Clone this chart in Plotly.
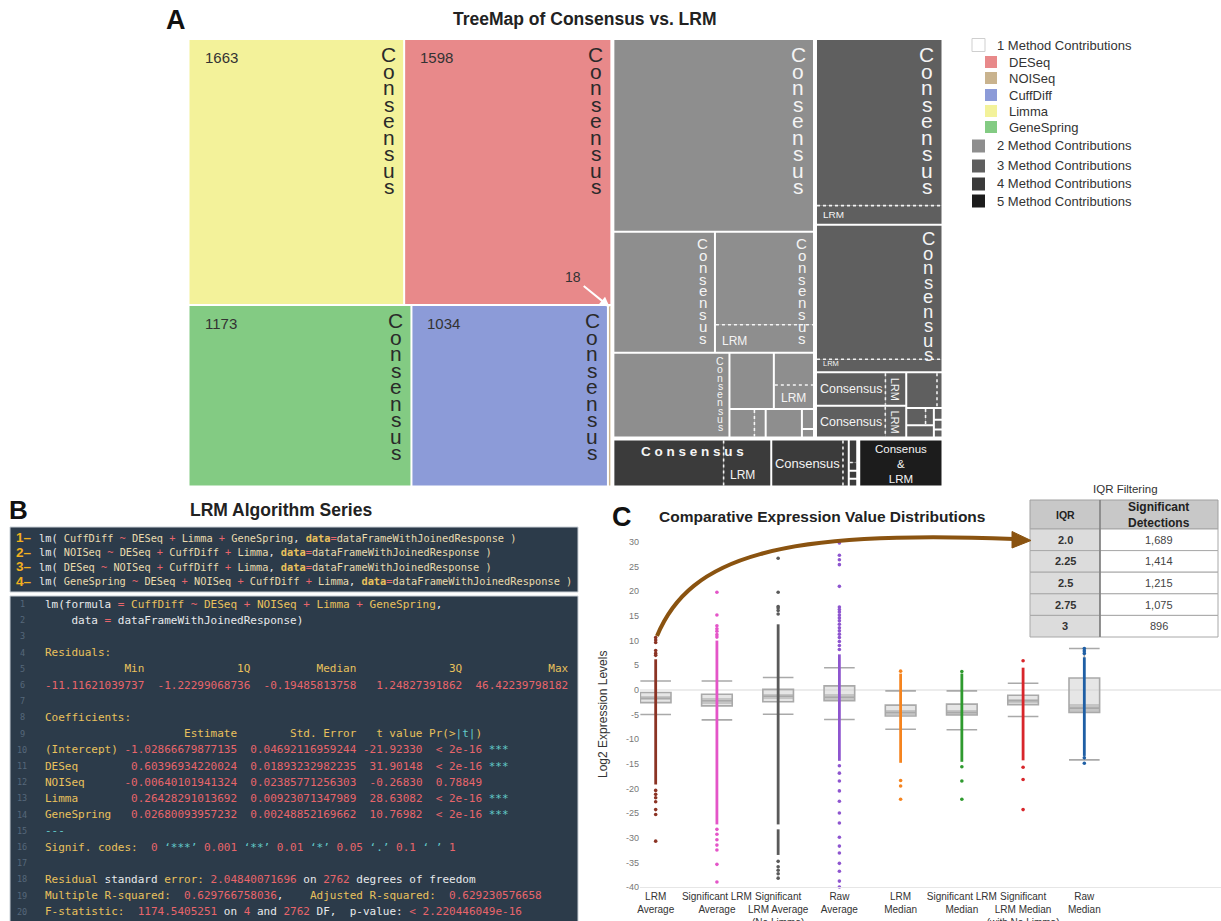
import plotly.graph_objects as go

FW, FH = 1221, 921
SANS = "Liberation Sans, Arial, Helvetica, sans-serif"
MONO = "DejaVu Sans Mono, Liberation Mono, monospace"


def PX(x):
    return x / FW


def PY(y):
    return 1 - y / FH


# ====================== Panel A data (treemap) ======================
one_method_names = ["DESeq", "NOISeq", "CuffDiff", "Limma", "GeneSpring"]
one_method_counts = [1598, 18, 1034, 1663, 1173]
one_method_colors = ["#E8898A", "#C9B38E", "#8C9BD8", "#F3F29A", "#83CB83"]

two_method_consensus = [1128, 358, 270, 287, 73, 38, 21, 30, 7, 3]
two_method_lrm = [0, 0, 79, 0, 0, 28, 9, 0, 0, 0]
three_method_consensus = [621, 502, 69, 65, 33, 10, 10, 3, 2.5, 2]
three_method_lrm = [68, 45, 20, 19, 5, 4, 0, 0, 0, 0]
four_method_consensus = [157, 103, 6, 2, 2]
four_method_lrm = [67, 7, 2, 0, 0]
five_method_combined = [120]

group_labels = ["1 Method Contributions", "2 Method Contributions", "3 Method Contributions",
                "4 Method Contributions", "5 Method Contributions"]
group_colors = ["#FFFFFF", "#8E8E8E", "#5F5F5F", "#3B3B3B", "#1C1C1C"]

# ====================== Panel C data ======================
cat_labels = ["LRM<br>Average", "Significant LRM<br>Average", "Significant<br>LRM Average<br>(No Limma)",
              "Raw<br>Average", "LRM<br>Median", "Significant LRM<br>Median",
              "Significant<br>LRM Median<br>(with No Limma)", "Raw<br>Median"]
box_q3 = [-0.55, -0.9, 0.1, 0.8, -3.1, -2.9, -1.1, 2.4]
box_q1 = [-2.6, -3.25, -2.4, -2.2, -5.3, -5.1, -3.0, -4.6]
box_median = [-1.7, -2.2, -1.3, -1.5, -4.6, -4.6, -2.2, -3.7]
band_hi = [-1.25, -1.55, -0.8, -0.9, -4.1, -4.1, -1.8, -2.9]
band_lo = [-2.15, -2.9, -1.9, -2.1, -5.1, -5.1, -2.7, -4.4]
whisker_hi = [1.8, 1.8, 2.5, 4.5, -0.2, -0.2, 1.35, 8.4]
whisker_lo = [-5.0, -6.1, -4.95, -6.0, -8.0, -8.1, -5.4, -14.2]

lrm_avg_dense = [[-19.2, 6.2]]
lrm_avg_points = [10.6, 10.1, 9.6, 8.0, 7.4, 7.0, -20.4, -21.2, -21.9, -22.7, -24.3, -25.3, -30.7]
sig_lrm_avg_dense = [[-27.3, 10.0]]
sig_lrm_avg_points = [19.8, 15.2, 13.0, 12.4, 11.9, 11.2, 10.7, -28.3, -29.3, -30.4, -31.5, -32.5, -35.4, -39.0]
sig_lrm_avg_nolimma_dense = [[-27.3, 13.3], [-33.5, -28.3]]
sig_lrm_avg_nolimma_points = [26.7, 19.8, 16.9, 16.6, 16.1, 15.4, -34.8, -35.9, -36.6, -37.3, -38.2]
raw_avg_dense = [[-14.4, 7.2]]
raw_avg_points = [29.8, 27.3, 26.4, 25.4, 21.0, 16.8, 16.3, 15.8, 15.2, 14.6, 14.0, 13.3, 12.6, 12.0,
                  11.3, 10.6, 9.8, 9.0, 8.2, -15.4, -16.9, -18.5, -20.5, -22.6, -25.0, -27.0, -29.9,
                  -31.7, -33.1, -35.2, -36.8, -38.8, -40.0]
lrm_median_dense = [[-14.8, 3.3]]
lrm_median_points = [3.8, -18.4, -19.5, -22.2]
sig_lrm_median_dense = [[-14.6, 3.3]]
sig_lrm_median_points = [3.7, -15.6, -18.5, -22.2]
sig_lrm_median_nolimma_dense = [[-14.3, 4.5]]
sig_lrm_median_nolimma_points = [5.9, -15.7, -18.2, -24.3]
raw_median_dense = [[-13.4, 6.6]]
raw_median_points = [8.4, 7.9, 7.4, -13.8, -14.9]

strip_dense = [lrm_avg_dense, sig_lrm_avg_dense, sig_lrm_avg_nolimma_dense, raw_avg_dense,
               lrm_median_dense, sig_lrm_median_dense, sig_lrm_median_nolimma_dense, raw_median_dense]
strip_points = [lrm_avg_points, sig_lrm_avg_points, sig_lrm_avg_nolimma_points, raw_avg_points,
                lrm_median_points, sig_lrm_median_points, sig_lrm_median_nolimma_points, raw_median_points]
strip_colors = ["#8b3324", "#e455c8", "#5a5a5a", "#8e55cf", "#f5841f", "#2f9a2f", "#d8262b", "#1f5fa5"]

iqr_header = ["IQR", "Significant<br>Detections"]
iqr_thresholds = ["2.0", "2.25", "2.5", "2.75", "3"]
significant_detections = [1689, 1414, 1215, 1075, 896]

# ====================== helpers ======================
PHI = (1 + 5 ** 0.5) / 2


def squarify(values, x0, y0, x1, y1, ratio=PHI):
    """d3-style squarified treemap layout; returns rects in input order."""
    order = sorted(range(len(values)), key=lambda i: -values[i])
    vals = [values[i] for i in order]
    out = [None] * len(values)
    n = len(vals)
    i0 = i1 = 0
    value = float(sum(vals))
    while i0 < n:
        dx, dy = x1 - x0, y1 - y0
        sumv = vals[i1]
        i1 += 1
        minv = maxv = sumv
        alpha = max(dy / dx, dx / dy) / (value * ratio)
        beta = sumv * sumv * alpha
        minr = max(maxv / beta, beta / minv)
        while i1 < n:
            nv = vals[i1]
            s2 = sumv + nv
            mn, mx = min(minv, nv), max(maxv, nv)
            beta = s2 * s2 * alpha
            nr = max(mx / beta, beta / mn)
            if nr > minr:
                break
            sumv, minv, maxv, minr = s2, mn, mx, nr
            i1 += 1
        if dx < dy:
            yk = y0 + dy * sumv / value
            xx = x0
            for k in range(i0, i1):
                w = dx * vals[k] / sumv
                out[order[k]] = (xx, y0, xx + w, yk)
                xx += w
            y0 = yk
        else:
            xk = x0 + dx * sumv / value
            yy = y0
            for k in range(i0, i1):
                h = dy * vals[k] / sumv
                out[order[k]] = (x0, yy, xk, yy + h)
                yy += h
            x0 = xk
        value -= sumv
        i0 = i1
    return out


def inset(r, p):
    w, h = r[2] - r[0], r[3] - r[1]
    px_ = max(0, min(p, w / 2 - 0.4))
    py_ = max(0, min(p, h / 2 - 0.4))
    return (r[0] + px_, r[1] + py_, r[2] - px_, r[3] - py_)


shapes = []
annotations = []


def ann(text, x, y, size, color="#222", xanchor="center", yanchor="middle", family=SANS,
        xref="paper", yref="paper", textangle=0, **kw):
    annotations.append(dict(text=text, x=x, y=y, xref=xref, yref=yref, showarrow=False,
                            font=dict(size=size, color=color, family=family),
                            xanchor=xanchor, yanchor=yanchor, textangle=textangle, **kw))


def prect(x0, y0, x1, y1, fill, line=None):
    shapes.append(dict(type="rect", xref="paper", yref="paper", x0=PX(x0), x1=PX(x1),
                       y0=PY(y1), y1=PY(y0), fillcolor=fill,
                       line=line if line else dict(width=0)))


# ====================== Panel A: treemap ======================
TM_X0, TM_Y0, TM_W, TM_H = 187.5, 38.0, 756.0, 449.5
groups_cons = [one_method_counts, two_method_consensus, three_method_consensus,
               four_method_consensus, five_method_combined]
groups_lrm = [[0] * len(one_method_counts), two_method_lrm, three_method_lrm,
              four_method_lrm, [0]]
group_vals = [sum(c) + sum(l) for c, l in zip(groups_cons, groups_lrm)]
group_rects = squarify(group_vals, 0, 0, TM_W, TM_H)

T = dict(xref="x2", yref="y2")


def tile(r, color):
    shapes.append(dict(type="rect", x0=r[0], x1=r[2], y0=r[1], y1=r[3], fillcolor=color,
                       line=dict(width=0), **T))


def consensus_label(r, combo, color):
    w, h = r[2] - r[0], r[3] - r[1]
    ch = combo[3] - combo[1]
    if h >= 70 and w >= 14:
        sp = min(16.5, 0.1 * ch)
        f = 1.27 * sp
        cx = r[2] - 0.6 * f - 2
        for i, letter in enumerate("Consensus"):
            ann(letter, cx, combo[1] + 0.7 * f + i * sp, f, color=color, **T)
    elif w >= 100:
        ann("<b>C o n s e n s u s</b>", (combo[0] + combo[2]) / 2, r[1] + 11, 13.5, color=color, **T)
    elif w >= 55 and h >= 25:
        ann("Consensus", (r[0] + r[2]) / 2, (r[1] + r[3]) / 2, min(14, (w - 6) / 5.0), color=color, **T)


def lrm_label(r, color):
    w, h = r[2] - r[0], r[3] - r[1]
    if w >= 25 and h >= 9:
        ann("LRM", r[0] + 4, r[3] - 1.5, min(12, max(7.5, 0.55 * h)), color=color,
            xanchor="left", yanchor="bottom", **T)
    elif 12 <= w < 25 and h >= 28:
        ann("LRM", (r[0] + r[2]) / 2, (r[1] + r[3]) / 2, min(11, 0.6 * w), color=color,
            textangle=90, **T)


for g, grect in enumerate(group_rects):
    gr = inset(grect, 1.0)
    cons, lrm = groups_cons[g], groups_lrm[g]
    totals = [c + l for c, l in zip(cons, lrm)]
    combo_rects = squarify(totals, *gr)
    txt_color = "#2a2a2a" if g == 0 else "#f4f4f4"
    for k, crect in enumerate(combo_rects):
        cr = inset(crect, 1.0)
        color = one_method_colors[k] if g == 0 else group_colors[g]
        if lrm[k] > 0:
            sub = squarify([cons[k], lrm[k]], *cr)
        else:
            sub = [cr, None]
        tile(sub[0], color)
        if sub[1] is not None:
            tile(sub[1], color)
            c, l = sub
            if abs(c[1] - l[1]) < 1e-6 and abs(c[3] - l[3]) < 1e-6:
                xs = c[2] if abs(c[2] - l[0]) < 1e-6 else c[0]
                shapes.append(dict(type="line", x0=xs, x1=xs, y0=c[1], y1=c[3],
                                   line=dict(color="rgba(255,255,255,0.9)", width=1.6, dash="dot"), **T))
            else:
                ys = c[3] if abs(c[3] - l[1]) < 1e-6 else c[1]
                shapes.append(dict(type="line", x0=c[0], x1=c[2], y0=ys, y1=ys,
                                   line=dict(color="rgba(255,255,255,0.9)", width=1.6, dash="dot"), **T))
        if g == 4:
            ann("Consenus<br>&<br>LRM", (cr[0] + cr[2]) / 2, (cr[1] + cr[3]) / 2 + 1, 11.5,
                color=txt_color, **T)
            continue
        consensus_label(sub[0], cr, txt_color)
        if sub[1] is not None:
            lrm_label(sub[1], txt_color)
        if g == 0:
            if cr[2] - cr[0] > 40:
                ann(str(cons[k]), cr[0] + 13, cr[1] + 17, 15, color="#333", xanchor="left", **T)
            else:
                annotations.append(dict(text=str(cons[k]), x=(cr[0] + cr[2]) / 2, y=cr[1] + 1,
                                        ax=-37, ay=-30, showarrow=True, arrowhead=2, arrowsize=1,
                                        arrowwidth=2, arrowcolor="white", standoff=0, startstandoff=2,
                                        font=dict(size=14, color="#333", family=SANS), **T))

# legend
legend_rows_y = [45, 62, 78, 95, 111, 127, 146, 166, 184, 201]
prect(972, 38.5, 985, 51.5, "white", dict(color="#cfcfcf", width=1))
ann(group_labels[0], PX(995), PY(legend_rows_y[0]), 13, color="#333", xanchor="left")
for i, (name, col) in enumerate(zip(one_method_names, one_method_colors)):
    yy = legend_rows_y[1 + i]
    prect(985, yy - 6, 997, yy + 6, col)
    ann(name, PX(1007), PY(yy), 13, color="#333", xanchor="left")
for gi in range(1, 5):
    yy = legend_rows_y[5 + gi]
    prect(972, yy - 6.5, 985, yy + 6.5, group_colors[gi])
    ann(group_labels[gi], PX(995), PY(yy), 13, color="#333", xanchor="left")

ann("<b>A</b>", PX(176), PY(20), 27, color="#111")
ann("<b>TreeMap of Consensus vs. LRM</b>", PX(585), PY(19), 17.5, color="#222")

# ====================== Panel B: code boxes ======================
ann("<b>B</b>", PX(18), PY(510), 26, color="#111")
ann("<b>LRM Algorithm Series</b>", PX(281), PY(510), 17.5, color="#222")

BG = "#2c3b4a"
prect(10, 527, 578, 592, BG, dict(color="#c9d0d6", width=1))
prect(10, 596, 578, 925, BG, dict(color="#c9d0d6", width=1))

WH, CREAM, Y, R, CY, OR = "#e8eaec", "#eadcae", "#e9c15c", "#e8656b", "#62c9c9", "#f2b01e"


def span(seg):
    text, color = seg[0], seg[1]
    t = text.replace("&", "&amp;").replace("<", "&lt;").replace(">", "&gt;").replace(" ", "\u00a0")
    if len(seg) > 2 and seg[2]:
        t = "<b>" + t + "</b>"
    return "<span style='color:%s'>%s</span>" % (color, t)


box1_lines = [
    [("lm( ", WH), ("CuffDiff", CREAM), (" ~ ", R), ("DESeq", CREAM), (" + ", R), ("Limma", CREAM), (" + ", R),
     ("GeneSpring", CREAM), (", ", WH), ("data", Y, True), ("=", R), ("dataFrameWithJoinedResponse )", CREAM)],
    [("lm( ", WH), ("NOISeq", CREAM), (" ~ ", R), ("DESeq", CREAM), (" + ", R), ("CuffDiff", CREAM), (" + ", R),
     ("Limma", CREAM), (", ", WH), ("data", Y, True), ("=", R), ("dataFrameWithJoinedResponse )", CREAM)],
    [("lm( ", WH), ("DESeq", CREAM), (" ~ ", R), ("NOISeq", CREAM), (" + ", R), ("CuffDiff", CREAM), (" + ", R),
     ("Limma", CREAM), (", ", WH), ("data", Y, True), ("=", R), ("dataFrameWithJoinedResponse )", CREAM)],
    [("lm( ", WH), ("GeneSpring", CREAM), (" ~ ", R), ("DESeq", CREAM), (" + ", R), ("NOISeq", CREAM), (" + ", R),
     ("CuffDiff", CREAM), (" + ", R), ("Limma", CREAM), (", ", WH), ("data", Y, True), ("=", R),
     ("dataFrameWithJoinedResponse )", CREAM)],
]
for i, segs in enumerate(box1_lines):
    yy = 537.5 + i * 14.5
    ann("<b>%d–</b>" % (i + 1), PX(14), PY(yy), 13.5, color=OR, xanchor="left")
    ann("".join(span(s) for s in segs), PX(37), PY(yy), 10.3, family=MONO, xanchor="left")

box2_lines = {
    1: [("lm(formula", WH), (" = ", R), ("CuffDiff", Y), (" ~ ", R), ("DESeq", Y), (" + ", R), ("NOISeq", Y),
        (" + ", R), ("Limma", Y), (" + ", R), ("GeneSpring", Y), (",", WH)],
    2: [("    data", WH), (" = ", R), ("dataFrameWithJoinedResponse)", WH)],
    4: [("Residuals:", Y)],
    5: [(" " * 12 + "Min" + " " * 14 + "1Q" + " " * 10 + "Median" + " " * 14 + "3Q" + " " * 13 + "Max", Y)],
    6: [("-11.11621039737  -1.22299068736  -0.19485813758   1.24827391862  46.42239798182", R)],
    8: [("Coefficients:", Y)],
    9: [(" " * 21 + "Estimate" + " " * 8 + "Std. Error" + " " * 3 + "t value ", Y), ("Pr(>", Y), ("|t|", CY), (")", Y)],
    10: [("(Intercept)", Y), (" -1.02866679877135  0.04692116959244 -21.92330  < 2e-16 ", R), ("***", CY)],
    11: [("DESeq", Y), ("        0.60396934220024  0.01893232982235  31.90148  < 2e-16 ", R), ("***", CY)],
    12: [("NOISeq", Y), ("      -0.00640101941324  0.02385771256303  -0.26830  0.78849", R)],
    13: [("Limma", Y), ("        0.26428291013692  0.00923071347989  28.63082  < 2e-16 ", R), ("***", CY)],
    14: [("GeneSpring", Y), ("   0.02680093957232  0.00248852169662  10.76982  < 2e-16 ", R), ("***", CY)],
    15: [("---", CY)],
    16: [("Signif. codes:", Y), ("  0 ", R), ("‘***’", CY), (" 0.001 ", R), ("‘**’", CY), (" 0.01 ", R),
         ("‘*’", CY), (" 0.05 ", R), ("‘.’", CY), (" 0.1 ", R), ("‘ ’", CY), (" 1", R)],
    18: [("Residual", Y), (" standard ", WH), ("error:", Y), (" 2.04840071696 ", R), ("on ", WH), ("2762", R),
         (" degrees of freedom", WH)],
    19: [("Multiple R-squared:", Y), ("  0.629766758036", R), (",    ", WH), ("Adjusted R-squared:", Y),
         ("  0.629230576658", R)],
    20: [("F-statistic:", Y), ("  1174.5405251 ", R), ("on ", WH), ("4", R), (" and ", WH), ("2762", R),
         (" DF,  p-value: ", WH), ("< 2.220446049e-16", R)],
}
for n in range(1, 21):
    yy = 604 + (n - 1) * 16.2
    ann(str(n), PX(22), PY(yy), 8.5, color="#56687a", family=MONO)
    if n in box2_lines:
        ann("".join(span(s) for s in box2_lines[n]), PX(43), PY(yy), 11, family=MONO, xanchor="left")

# ====================== Panel C ======================
ann("<b>C</b>", PX(622), PY(517), 27, color="#111")
ann("<b>Comparative Expression Value Distributions</b>", PX(822), PY(516), 15.5, color="#222")
ann("Log2 Expression Levels", PX(603), PY(715), 12, color="#333", textangle=-90)

positions = list(range(len(cat_labels)))
traces = []
traces.append(go.Bar(x=positions, base=band_lo, y=[h - l for h, l in zip(band_hi, band_lo)], width=0.5,
                     marker=dict(color="#bdbdbd", line=dict(width=0)), hoverinfo="skip", showlegend=False))
traces.append(go.Box(x=positions, q1=box_q1, median=box_median, q3=box_q3, lowerfence=whisker_lo,
                     upperfence=whisker_hi, width=0.5, whiskerwidth=1, boxpoints=False,
                     fillcolor="rgba(205,205,205,0.5)", line=dict(color="#a9a9a9", width=1.6),
                     hoverinfo="skip", showlegend=False))
for i in positions:
    for seg in strip_dense[i]:
        traces.append(go.Scatter(x=[i, i], y=seg, mode="lines", line=dict(color=strip_colors[i], width=2.8),
                                 hoverinfo="skip", showlegend=False, cliponaxis=False))
    traces.append(go.Scatter(x=[i] * len(strip_points[i]), y=strip_points[i], mode="markers",
                             marker=dict(color=strip_colors[i], size=3.6), hoverinfo="skip",
                             showlegend=False, cliponaxis=False))

# empty trace registering the treemap axes
traces.append(go.Scatter(x=[], y=[], xaxis="x2", yaxis="y2", showlegend=False))

# IQR filtering table
ann("IQR Filtering", PX(1125), PY(489), 11.5, color="#333")
TX = [1030, 1100, 1218]
TY_H0, TY_H1, ROW = 500, 529, 21.6
prect(TX[0], TY_H0, TX[2], TY_H1, "#c8c8c8", dict(color="#a0a0a0", width=1))
for j in range(2):
    ann("<b>%s</b>" % iqr_header[j], PX((TX[j] + TX[j + 1]) / 2), PY((TY_H0 + TY_H1) / 2),
        10.5 if j == 0 else 12, color="#222")
for i, (thr, det) in enumerate(zip(iqr_thresholds, significant_detections)):
    y0 = TY_H1 + i * ROW
    prect(TX[0], y0, TX[1], y0 + ROW, "#dcdcdc", dict(color="#a8a8a8", width=1))
    prect(TX[1], y0, TX[2], y0 + ROW, "#ffffff", dict(color="#a8a8a8", width=1))
    ann("<b>%s</b>" % thr, PX((TX[0] + TX[1]) / 2), PY(y0 + ROW / 2), 11, color="#333")
    ann("{:,}".format(det), PX((TX[1] + TX[2]) / 2), PY(y0 + ROW / 2), 11, color="#444")
shapes.append(dict(type="line", xref="paper", yref="paper", x0=PX(TX[1]), x1=PX(TX[1]),
                   y0=PY(TY_H0), y1=PY(TY_H1 + 5 * ROW), line=dict(color="#7d7d7d", width=1.5)))


# brown curved arrow
def P(x, y):
    return "%.5f,%.5f" % (PX(x), PY(y))


shapes.append(dict(type="path", xref="paper", yref="paper",
                   path="M %s C %s %s %s" % (P(657, 636), P(690, 556), P(780, 530), P(1014, 539)),
                   line=dict(color="#8a5310", width=4)))
shapes.append(dict(type="path", xref="paper", yref="paper",
                   path="M %s L %s L %s Z" % (P(1031, 540.5), P(1012, 531.5), P(1012, 548)),
                   fillcolor="#8a5310", line=dict(color="#8a5310", width=1)))

fig = go.Figure(traces)
fig.update_layout(
    template="none",
    width=FW, height=FH, margin=dict(l=0, r=0, t=0, b=0, pad=0), autosize=False,
    paper_bgcolor="white", plot_bgcolor="white", showlegend=False, bargap=0,
    font=dict(family=SANS),
    shapes=shapes, annotations=annotations,
    xaxis=dict(domain=[PX(640), 1.0], range=[-0.256, 9.232], tickmode="array", tickvals=positions,
               ticktext=cat_labels, tickangle=0, tickfont=dict(size=10, color="#333", family=SANS),
               showgrid=False, zeroline=False, showline=True, linecolor="#e6e6e6", ticks="",
               automargin=False, fixedrange=True),
    yaxis=dict(domain=[PY(887), PY(542)], range=[-40, 30], tickmode="array", tickvals=list(range(-40, 31, 5)),
               ticktext=[str(v) for v in range(-40, 31, 5)], tickfont=dict(size=9, color="#777", family=SANS),
               showgrid=False, zeroline=True, zerolinecolor="#ececec", zerolinewidth=2, ticks="",
               showline=False, automargin=False, fixedrange=True),
    xaxis2=dict(domain=[PX(TM_X0), PX(TM_X0 + TM_W)], range=[0, TM_W], visible=False, anchor="y2",
                automargin=False, fixedrange=True),
    yaxis2=dict(domain=[PY(TM_Y0 + TM_H), PY(TM_Y0)], range=[TM_H, 0], visible=False, anchor="x2",
                automargin=False, fixedrange=True),
)
fig.write_html("out.html", config={"displayModeBar": False},
               post_script="document.body.style.margin='0px';document.body.style.overflow='hidden';")
